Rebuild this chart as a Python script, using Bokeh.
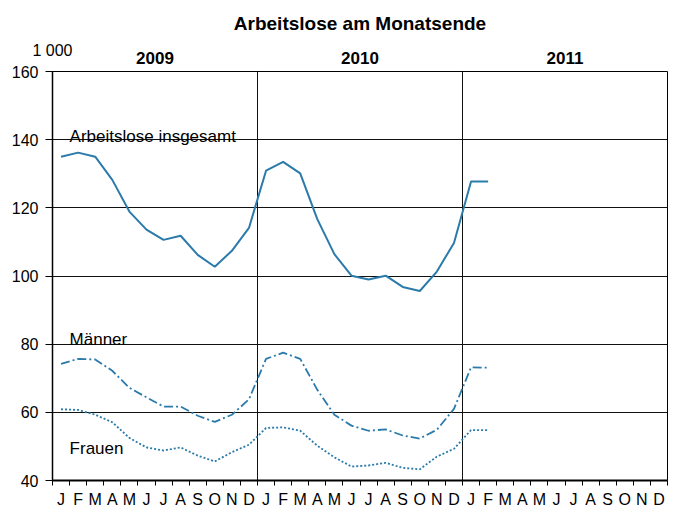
from bokeh.plotting import figure
from bokeh.models import Range1d, FixedTicker, LinearAxis, ColumnDataSource
from bokeh.core.properties import value
from bokeh.embed import file_html
from bokeh.resources import INLINE

FONT = "Liberation Sans"

title_text = "Arbeitslose am Monatsende"
months = ["J", "F", "M", "A", "M", "J", "J", "A", "S", "O", "N", "D"]
years = ["2009", "2010", "2011"]
y_ticks = [40, 60, 80, 100, 120, 140, 160]

# Jan 2009 .. Feb 2011, in 1 000
insgesamt = [135.0, 136.2, 135.0, 128.2, 118.9, 113.6, 110.6, 111.8, 106.2, 102.7, 107.4, 114.1,
             130.9, 133.5, 130.1, 116.7, 106.4, 100.1, 99.0, 100.1, 96.8, 95.6, 101.3, 109.7,
             127.7, 127.7]
maenner = [74.2, 75.7, 75.5, 72.2, 67.2, 64.4, 61.7, 61.7, 59.0, 57.2, 59.3, 63.8,
           75.7, 77.5, 75.7, 66.6, 59.3, 56.1, 54.6, 55.0, 53.2, 52.3, 54.9, 61.0,
           73.2, 73.1]
frauen = [60.9, 60.7, 59.3, 57.1, 52.5, 49.7, 48.8, 49.7, 47.3, 45.6, 48.3, 50.5,
          55.4, 55.6, 54.6, 50.2, 46.8, 44.1, 44.4, 45.2, 43.7, 43.3, 47.0, 49.3,
          54.8, 54.8]

series_labels = ["Arbeitslose insgesamt", "Männer", "Frauen"]
label_y = [140.9, 81.3, 49.4]
unit_label = "1 000"

n_months = 12 * len(years)
x_all = list(range(n_months))
x = x_all[:len(insgesamt)]

COLOR = "#2a7aaa"

p = figure(width=675, height=510, output_backend="svg", toolbar_location=None, title=None,
           x_range=Range1d(-0.5, n_months - 0.5), y_range=Range1d(40, 160),
           x_axis_location=None, y_axis_location=None,
           min_border_left=52, min_border_right=8, min_border_top=71, min_border_bottom=30)
p.background_fill_color = "white"
p.border_fill_color = "white"
p.outline_line_color = "black"
p.outline_line_width = 1

# left axis
yax = LinearAxis(ticker=FixedTicker(ticks=y_ticks))
yax.major_label_text_font = FONT
yax.major_label_text_font_size = "16px"
yax.major_label_text_color = "black"
yax.major_tick_out = 7
yax.major_tick_in = 0
yax.minor_tick_out = 0
yax.major_label_standoff = 7
yax.axis_line_width = 1.5
yax.axis_line_color = "black"
p.add_layout(yax, "left")

# bottom axis: month letters at centres, tick marks at month boundaries
bounds = [i - 0.5 for i in range(n_months + 1)]
xax = LinearAxis(ticker=FixedTicker(ticks=x_all, minor_ticks=bounds))
xax.major_label_overrides = {i: months[i % 12] for i in x_all}
xax.major_label_text_font = FONT
xax.major_label_text_font_size = "16px"
xax.major_label_text_color = "black"
xax.major_tick_out = 0
xax.major_tick_in = 0
xax.minor_tick_out = 5
xax.minor_tick_in = 0
xax.minor_tick_line_color = "black"
xax.major_label_standoff = 5
xax.axis_line_width = 2
xax.axis_line_color = "black"
p.add_layout(xax, "below")

# top axis 1: year labels
year_centres = [12 * k + 5.5 for k in range(len(years))]
tax = LinearAxis(ticker=FixedTicker(ticks=year_centres))
tax.major_label_overrides = {c: years[k] for k, c in enumerate(year_centres)}
tax.major_label_text_font = FONT
tax.major_label_text_font_size = "17px"
tax.major_label_text_font_style = "bold"
tax.major_label_text_color = "black"
tax.major_tick_out = 0
tax.major_tick_in = 0
tax.minor_tick_out = 0
tax.axis_line_color = None
tax.major_label_standoff = 8
p.add_layout(tax, "above")

# top axis 2: unit label at the left edge, chart title as its axis label
uax = LinearAxis(ticker=FixedTicker(ticks=[-0.5]))
uax.major_label_overrides = {-0.5: unit_label}
uax.major_label_text_font = FONT
uax.major_label_text_font_size = "16px"
uax.major_label_text_color = "black"
uax.major_tick_out = 0
uax.major_tick_in = 0
uax.minor_tick_out = 0
uax.axis_line_color = None
uax.major_label_standoff = -10
uax.axis_label = title_text
uax.axis_label_text_font = FONT
uax.axis_label_text_font_size = "19px"
uax.axis_label_text_font_style = "bold"
uax.axis_label_text_color = "black"
uax.axis_label_standoff = 5
p.add_layout(uax, "above")

p.xgrid.ticker = FixedTicker(ticks=[12 * k - 0.5 for k in range(1, len(years))])
p.xgrid.grid_line_color = "#111111"
p.xgrid.grid_line_width = 1
p.ygrid.ticker = FixedTicker(ticks=y_ticks)
p.ygrid.grid_line_color = "#111111"
p.ygrid.grid_line_width = 1

src = ColumnDataSource(dict(x=x, tot=insgesamt, m=maenner, f=frauen))
p.line("x", "tot", source=src, line_color=COLOR, line_width=2)
p.line("x", "m", source=src, line_color=COLOR, line_width=1.8, line_dash="9 3 2 3")
p.line("x", "f", source=src, line_color=COLOR, line_width=1.8, line_dash="2 2")

p.text(x=[0.5] * 3, y=label_y, text=series_labels, text_font=value(FONT),
       text_font_size="17px", text_color="black", text_baseline="alphabetic",
       text_align="left")

open("out.html", "w").write(file_html(p, INLINE))
